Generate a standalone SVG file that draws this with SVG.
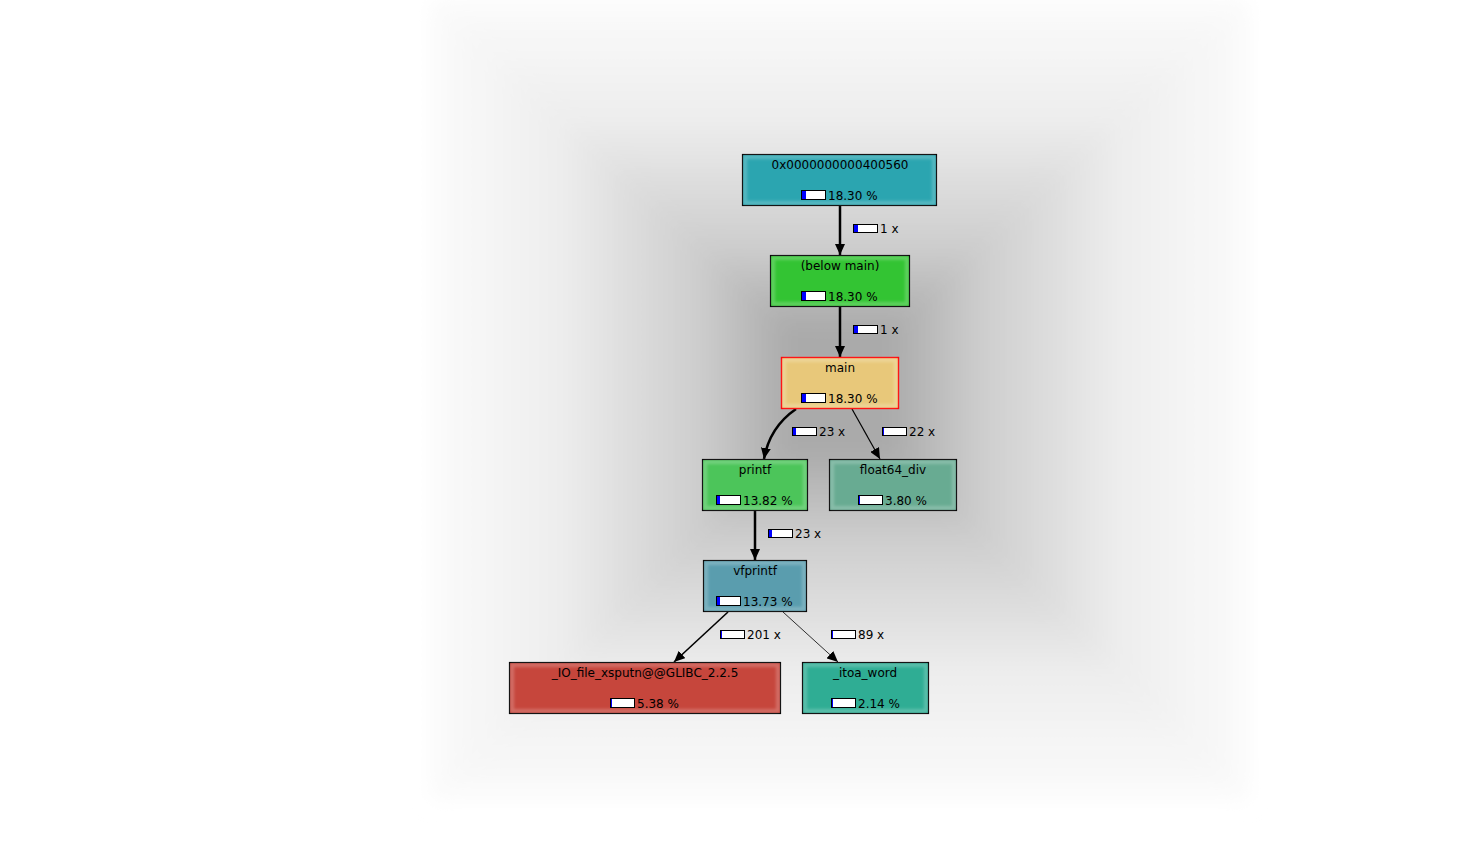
<svg xmlns="http://www.w3.org/2000/svg" width="1466" height="868" viewBox="0 0 1466 868">
<defs>
<style>
text{font-family:"DejaVu Sans","Liberation Sans",sans-serif;font-size:12px;fill:#000}
.name{text-anchor:middle}
.node{stroke:#000;stroke-width:1.2}
.glow{fill:none;stroke:#fff;stroke-opacity:0.22;stroke-width:4;filter:url(#soft)}
.bar{fill:#fff;stroke:#000;stroke-width:1}
.blue{fill:#0000ff}
.edge{fill:none;stroke:#000}
</style>
<filter id="bgblur" x="-10%" y="-10%" width="120%" height="120%"><feGaussianBlur stdDeviation="10"/></filter>
<filter id="soft"><feGaussianBlur stdDeviation="1.5"/></filter>
<linearGradient id="gt" gradientUnits="userSpaceOnUse" x1="0" y1="0" x2="0" y2="330"><stop offset="0" stop-color="#fbfbfb"/><stop offset="0.35" stop-color="#eeeeee"/><stop offset="0.75" stop-color="#cdcdcd"/><stop offset="1" stop-color="#aaaaaa"/></linearGradient>
<linearGradient id="gb" gradientUnits="userSpaceOnUse" x1="0" y1="800" x2="0" y2="450"><stop offset="0" stop-color="#fbfbfb"/><stop offset="0.35" stop-color="#eeeeee"/><stop offset="0.75" stop-color="#cdcdcd"/><stop offset="1" stop-color="#aaaaaa"/></linearGradient>
<linearGradient id="gl" gradientUnits="userSpaceOnUse" x1="430" y1="0" x2="790" y2="0"><stop offset="0" stop-color="#fbfbfb"/><stop offset="0.35" stop-color="#eeeeee"/><stop offset="0.75" stop-color="#cdcdcd"/><stop offset="1" stop-color="#aaaaaa"/></linearGradient>
<linearGradient id="gr" gradientUnits="userSpaceOnUse" x1="1250" y1="0" x2="890" y2="0"><stop offset="0" stop-color="#fbfbfb"/><stop offset="0.35" stop-color="#eeeeee"/><stop offset="0.75" stop-color="#cdcdcd"/><stop offset="1" stop-color="#aaaaaa"/></linearGradient>
<marker id="ah" markerUnits="userSpaceOnUse" markerWidth="12" markerHeight="10" refX="11" refY="5" orient="auto"><path d="M0,0 L11,5 L0,10 Z" fill="#000"/></marker>
</defs>
<rect width="1466" height="868" fill="#ffffff"/>
<g id="background" filter="url(#bgblur)">
<polygon points="430,0 1250,0 890,330 790,330" fill="url(#gt)"/>
<polygon points="430,800 1250,800 890,450 790,450" fill="url(#gb)"/>
<polygon points="430,0 790,330 790,450 430,800" fill="url(#gl)"/>
<polygon points="1250,0 890,330 890,450 1250,800" fill="url(#gr)"/>
<rect x="789" y="329" width="102" height="122" fill="#aaaaaa"/>
</g>
<g id="connectors">
<g id="e1"><line class="edge" x1="840" y1="205" x2="840" y2="255" stroke-width="2.5" marker-end="url(#ah)"/><rect class="bar" x="853.5" y="224.5" width="24" height="8"/><rect class="blue" x="854" y="225" width="4" height="7"/><text x="880" y="233">1 x</text></g>
<g id="e2"><line class="edge" x1="840" y1="306" x2="840" y2="357" stroke-width="2.5" marker-end="url(#ah)"/><rect class="bar" x="853.5" y="325.5" width="24" height="8"/><rect class="blue" x="854" y="326" width="4" height="7"/><text x="880" y="334">1 x</text></g>
<g id="e3"><path class="edge" d="M796,409 C780,420 768,436 764,459" stroke-width="2.5" marker-end="url(#ah)"/><rect class="bar" x="792.5" y="427.5" width="24" height="8"/><rect class="blue" x="793" y="428" width="3" height="7"/><text x="819" y="436">23 x</text></g>
<g id="e4"><line class="edge" x1="852" y1="409" x2="880" y2="459" stroke-width="1.2" marker-end="url(#ah)"/><rect class="bar" x="882.5" y="427.5" width="24" height="8"/><rect class="blue" x="883" y="428" width="1" height="7"/><text x="909" y="436">22 x</text></g>
<g id="e5"><line class="edge" x1="755" y1="510" x2="755" y2="560" stroke-width="2.5" marker-end="url(#ah)"/><rect class="bar" x="768.5" y="529.5" width="24" height="8"/><rect class="blue" x="769" y="530" width="3" height="7"/><text x="795" y="538">23 x</text></g>
<g id="e6"><line class="edge" x1="728" y1="612" x2="674" y2="662" stroke-width="1.6" marker-end="url(#ah)"/><rect class="bar" x="720.5" y="630.5" width="24" height="8"/><rect class="blue" x="721" y="631" width="1" height="7"/><text x="747" y="639">201 x</text></g>
<g id="e7"><line class="edge" x1="783" y1="612" x2="838" y2="662" stroke-width="0.8" marker-end="url(#ah)"/><rect class="bar" x="831.5" y="630.5" width="24" height="8"/><rect class="blue" x="832" y="631" width="1" height="7"/><text x="858" y="639">89 x</text></g>
</g>
<g id="n1"><rect class="node" x="742.5" y="154.5" width="194" height="51" fill="#2ba5b0"/><rect class="glow" x="745" y="157" width="189" height="46"/><text class="name" x="840" y="169">0x0000000000400560</text><rect class="bar" x="801.5" y="190.5" width="24" height="9"/><rect class="blue" x="802" y="191" width="4" height="8"/><text x="828" y="200">18.30 %</text></g>
<g id="n2"><rect class="node" x="770.5" y="255.5" width="139" height="51" fill="#33c433"/><rect class="glow" x="773" y="258" width="134" height="46"/><text class="name" x="840" y="270">(below main)</text><rect class="bar" x="801.5" y="291.5" width="24" height="9"/><rect class="blue" x="802" y="292" width="4" height="8"/><text x="828" y="301">18.30 %</text></g>
<g id="n3"><rect x="781.5" y="357.5" width="117" height="51" fill="#e8c87a" stroke="#ff0000" stroke-width="1.4"/><rect class="glow" x="784" y="360" width="112" height="46"/><text class="name" x="840" y="372">main</text><rect class="bar" x="801.5" y="393.5" width="24" height="9"/><rect class="blue" x="802" y="394" width="4" height="8"/><text x="828" y="403">18.30 %</text></g>
<g id="n4"><rect class="node" x="702.5" y="459.5" width="105" height="51" fill="#4cc55a"/><rect class="glow" x="705" y="462" width="100" height="46"/><text class="name" x="755" y="474">printf</text><rect class="bar" x="716.5" y="495.5" width="24" height="9"/><rect class="blue" x="717" y="496" width="3" height="8"/><text x="743" y="505">13.82 %</text></g>
<g id="n5"><rect class="node" x="829.5" y="459.5" width="127" height="51" fill="#68ab92"/><rect class="glow" x="832" y="462" width="122" height="46"/><text class="name" x="893" y="474">float64_div</text><rect class="bar" x="858.5" y="495.5" width="24" height="9"/><rect class="blue" x="859" y="496" width="1" height="8"/><text x="885" y="505">3.80 %</text></g>
<g id="n6"><rect class="node" x="703.5" y="560.5" width="103" height="51" fill="#5a9dae"/><rect class="glow" x="706" y="563" width="98" height="46"/><text class="name" x="755" y="575">vfprintf</text><rect class="bar" x="716.5" y="596.5" width="24" height="9"/><rect class="blue" x="717" y="597" width="3" height="8"/><text x="743" y="606">13.73 %</text></g>
<g id="n7"><rect class="node" x="509.5" y="662.5" width="271" height="51" fill="#c6463c"/><rect class="glow" x="512" y="665" width="266" height="46"/><text class="name" x="645" y="677">_IO_file_xsputn@@GLIBC_2.2.5</text><rect class="bar" x="610.5" y="698.5" width="24" height="9"/><rect class="blue" x="611" y="699" width="1" height="8"/><text x="637" y="708">5.38 %</text></g>
<g id="n8"><rect class="node" x="802.5" y="662.5" width="126" height="51" fill="#2fad94"/><rect class="glow" x="805" y="665" width="121" height="46"/><text class="name" x="865" y="677">_itoa_word</text><rect class="bar" x="831.5" y="698.5" width="24" height="9"/><rect class="blue" x="832" y="699" width="1" height="8"/><text x="858" y="708">2.14 %</text></g>
</svg>
